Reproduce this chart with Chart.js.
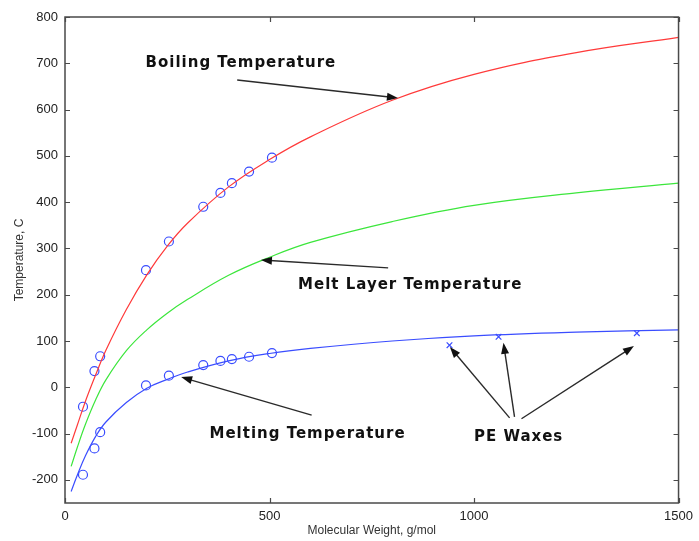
<!DOCTYPE html>
<html>
<head>
<meta charset="utf-8">
<script src="https://cdn.jsdelivr.net/npm/chart.js@4.4.1/dist/chart.umd.min.js"></script>
<style>
  html, body { margin: 0; padding: 0; background: #fff; }
  #chart { display: block; }
</style>
</head>
<body>
<canvas id="chart" width="699" height="541"></canvas>
<script>
/* Temperature vs molecular weight */
const X_TICKS = [0, 500, 1000, 1500];
const Y_TICKS = [-200, -100, 0, 100, 200, 300, 400, 500, 600, 700, 800];

// fitted curves
const CURVE_X = [15, 30, 50, 75, 100, 150, 200, 250, 300, 400, 500, 600, 800, 1000, 1250, 1500];
const BOILING_CURVE = [-121, -82, -30, 27, 80, 168, 243, 305, 355, 433, 492, 541, 620, 676, 723, 756];
const MELT_LAYER_CURVE = [-171, -130, -80, -27, 16, 79, 124, 160, 190, 242, 281, 313, 358, 393, 420, 441];
const MELTING_CURVE = [-225, -190, -148, -106, -75, -33, -2, 17, 33, 57, 73, 84, 100, 111, 119, 124];

// measured n-alkanes
const ALKANE_MW = [44, 72, 86, 198, 254, 338, 380, 408, 450, 506];
const ALKANE_BOILING = [-42, 35, 67, 253, 315, 390, 420, 441, 466, 496];
const ALKANE_MELTING = [-189, -132, -97, 4, 25, 48, 57, 61, 66, 74];

// PE waxes
const WAX_MW = [940, 1060, 1398];
const WAX_MELTING = [91, 109, 117];

// annotations, in data units
const LABELS = [
  { text: 'Boiling Temperature', x: 430, y: 700 },
  { text: 'Melt Layer Temperature', x: 844, y: 221 },
  { text: 'Melting Temperature', x: 593, y: -101 },
  { text: 'PE Waxes', x: 1109, y: -107 },
];
const ARROWS = [
  { from: [421, 664], to: [814, 625] },
  { from: [790, 258], to: [479, 275] },
  { from: [603, -60], to: [284, 22] },
  { from: [1087, -66], to: [941, 87] },
  { from: [1099, -64], to: [1072, 96] },
  { from: [1116, -68], to: [1391, 89] },
];

const RED = '#ff3a3a';
const GREEN = '#3ce63c';
const BLUE = '#3a4dff';
const AXIS = '#4a4a4a';
const TICK_FONT = { family: "'Liberation Sans', Arial, sans-serif", size: 13 };

const pts = (xs, ys) => xs.map((x, i) => ({ x, y: ys[i] }));

function curve(label, ys, color) {
  return {
    type: 'line',
    label,
    data: pts(CURVE_X, ys),
    borderColor: color,
    borderWidth: 1.2,
    pointRadius: 0,
    tension: 0.4,
    fill: false,
  };
}

function markers(label, xs, ys, style, r) {
  return {
    type: 'scatter',
    label,
    data: pts(xs, ys),
    showLine: false,
    pointStyle: style,
    pointRadius: r,
    borderColor: BLUE,
    backgroundColor: 'rgba(0,0,0,0)',
    pointBorderWidth: 1.2,
  };
}

function arrow(ctx, x1, y1, x2, y2) {
  const a = Math.atan2(y2 - y1, x2 - x1);
  const len = 11, w = 4;
  ctx.beginPath();
  ctx.moveTo(x1, y1);
  ctx.lineTo(x2 - Math.cos(a) * len * 0.8, y2 - Math.sin(a) * len * 0.8);
  ctx.stroke();
  ctx.beginPath();
  ctx.moveTo(x2, y2);
  ctx.lineTo(x2 - Math.cos(a) * len + Math.sin(a) * w, y2 - Math.sin(a) * len - Math.cos(a) * w);
  ctx.lineTo(x2 - Math.cos(a) * len - Math.sin(a) * w, y2 - Math.sin(a) * len + Math.cos(a) * w);
  ctx.closePath();
  ctx.fill();
}

const decorations = {
  id: 'decorations',
  afterDraw(chart) {
    const { ctx, chartArea: ca, scales: { x, y } } = chart;
    ctx.save();

    // box with inward ticks
    ctx.strokeStyle = AXIS;
    ctx.lineWidth = 1.5;
    ctx.strokeRect(ca.left, ca.top, ca.right - ca.left, ca.bottom - ca.top);
    ctx.lineWidth = 1.2;
    ctx.beginPath();
    Y_TICKS.forEach(v => {
      const py = Math.round(y.getPixelForValue(v)) + 0.5;
      ctx.moveTo(ca.left, py); ctx.lineTo(ca.left + 5, py);
      ctx.moveTo(ca.right, py); ctx.lineTo(ca.right - 5, py);
    });
    X_TICKS.forEach(v => {
      const px = Math.round(x.getPixelForValue(v)) + 0.5;
      ctx.moveTo(px, ca.bottom); ctx.lineTo(px, ca.bottom - 5);
      ctx.moveTo(px, ca.top); ctx.lineTo(px, ca.top + 5);
    });
    ctx.stroke();

    // axis titles
    ctx.fillStyle = '#333';
    ctx.font = "12px 'Liberation Sans', Arial, sans-serif";
    ctx.textAlign = 'center';
    ctx.textBaseline = 'middle';
    ctx.fillText('Molecular Weight, g/mol', (ca.left + ca.right) / 2, 531);
    ctx.save();
    ctx.translate(20, (ca.top + ca.bottom) / 2);
    ctx.rotate(-Math.PI / 2);
    ctx.fillText('Temperature, C', 0, 0);
    ctx.restore();

    // arrows
    ctx.strokeStyle = '#2a2a2a';
    ctx.fillStyle = '#111';
    ctx.lineWidth = 1.4;
    ARROWS.forEach(a => {
      arrow(ctx,
        x.getPixelForValue(a.from[0]), y.getPixelForValue(a.from[1]),
        x.getPixelForValue(a.to[0]), y.getPixelForValue(a.to[1]));
    });

    // labels
    ctx.fillStyle = '#111';
    ctx.font = "bold 15px 'DejaVu Sans', sans-serif";
    ctx.letterSpacing = '1px';
    LABELS.forEach(l => {
      ctx.fillText(l.text, x.getPixelForValue(l.x), y.getPixelForValue(l.y));
    });
    ctx.restore();
  },
};

new Chart(document.getElementById('chart'), {
  data: {
    datasets: [
      curve('Boiling Temperature', BOILING_CURVE, RED),
      curve('Melt Layer Temperature', MELT_LAYER_CURVE, GREEN),
      curve('Melting Temperature', MELTING_CURVE, BLUE),
      markers('Alkane boiling', ALKANE_MW, ALKANE_BOILING, 'circle', 4.5),
      markers('Alkane melting', ALKANE_MW, ALKANE_MELTING, 'circle', 4.5),
      markers('PE Waxes', WAX_MW, WAX_MELTING, 'crossRot', 4),
    ],
  },
  options: {
    responsive: false,
    animation: false,
    devicePixelRatio: 1,
    layout: { padding: { top: 17, right: 17, left: 0, bottom: 0 } },
    plugins: { legend: { display: false }, tooltip: { enabled: false } },
    scales: {
      x: {
        type: 'linear',
        min: 0,
        max: 1500,
        afterBuildTicks: s => { s.ticks = X_TICKS.map(value => ({ value })); },
        afterFit: s => { s.height = 38; },
        ticks: { color: '#222', font: TICK_FONT, padding: 6, maxRotation: 0, autoSkip: false, callback: v => String(v) },
        grid: { display: false, drawTicks: false },
        border: { display: false },
      },
      y: {
        type: 'linear',
        min: -250,
        max: 800,
        afterBuildTicks: s => { s.ticks = Y_TICKS.map(value => ({ value })); },
        afterFit: s => { s.width = 65; },
        ticks: { color: '#222', font: TICK_FONT, padding: 7, autoSkip: false, callback: v => String(v) },
        grid: { display: false, drawTicks: false },
        border: { display: false },
      },
    },
  },
  plugins: [decorations],
});
</script>
</body>
</html>
